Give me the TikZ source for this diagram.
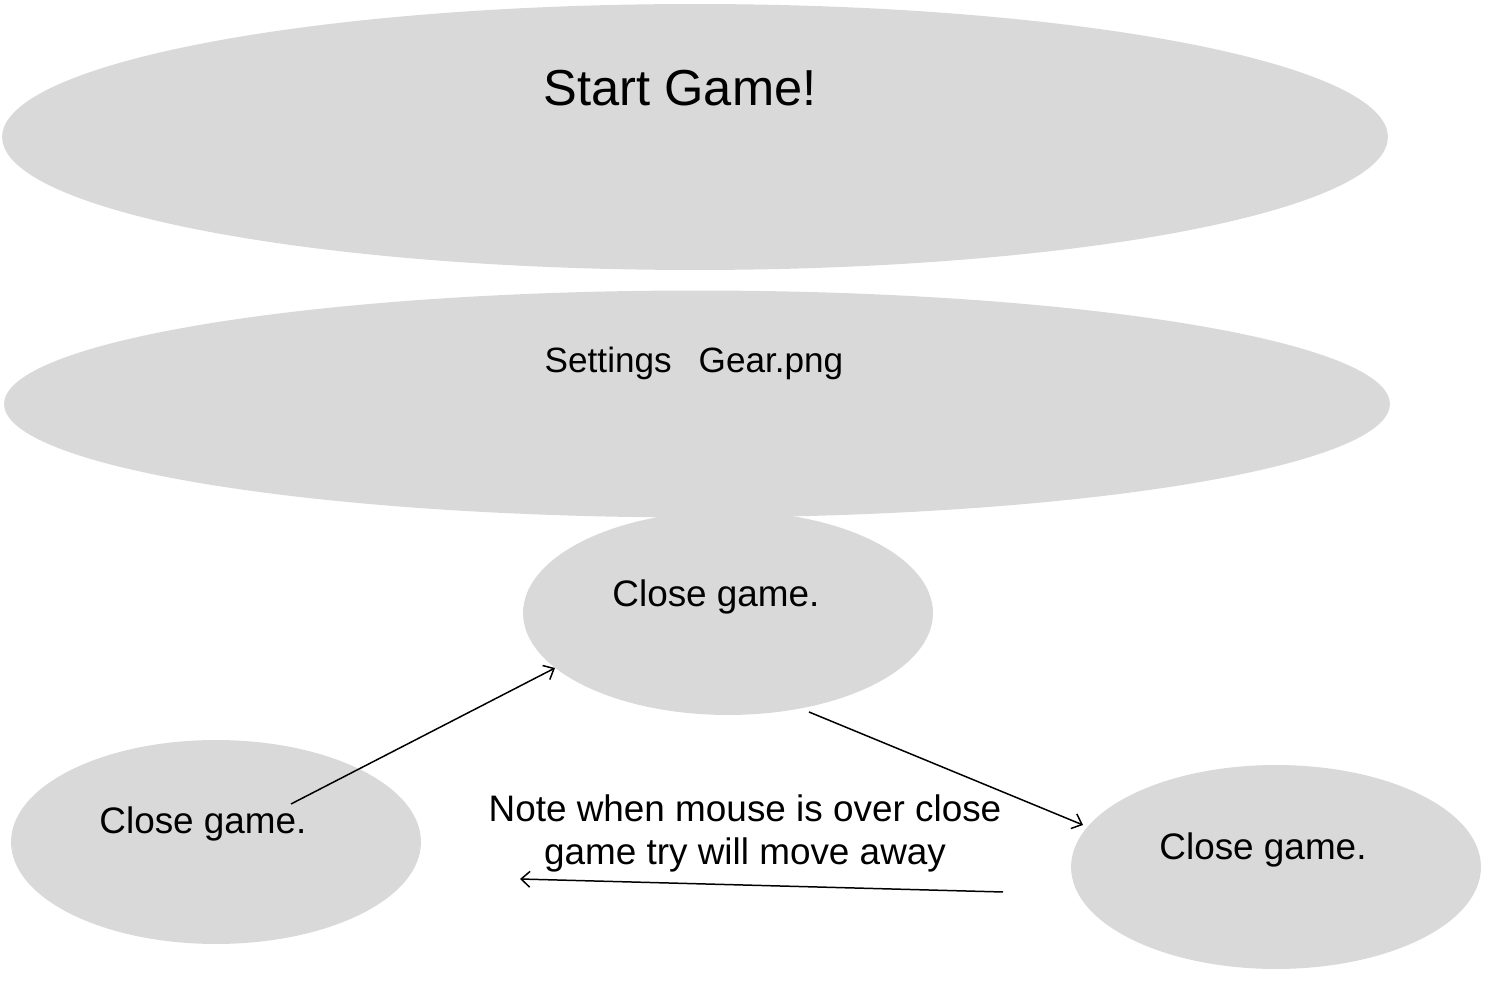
\documentclass[tikz,border=0pt]{standalone}
\usepackage{fontspec}
\setmainfont{Liberation Sans}
\usetikzlibrary{shapes.geometric, positioning, arrows.meta}
\definecolor{bubblegray}{RGB}{217,217,217}
\tikzset{
    bubble/.style={
        ellipse,
        fill=bubblegray,
        draw=none,
        inner sep=0pt
    },
    arrow/.style={
        -{Straight Barb[length=5pt,width=9pt]},
        line width=0.85pt,
        draw=black
    }
}

\begin{document}
\begin{tikzpicture}[x=0.02cm, y=-0.02cm]
        \useasboundingbox (0,0) rectangle (1512,982);

        % Start button
        \node (start) [bubble, minimum width=27.72cm, minimum height=5.32cm] at (695,137) {};
        \node (start_text) [font=\fontsize{28.8}{34}\selectfont] at (680,88) {Start Game!};

        % Settings button
        \node (settings) [bubble, minimum width=27.72cm, minimum height=4.54cm] at (697,404) {};
        \node (settings_text) [font=\fontsize{20}{24}\selectfont] at (694,363) {Settings\hspace{0.54cm}Gear.png};

        % Close buttons
        \node (close_mid) [bubble, minimum width=8.2cm, minimum height=4.08cm] at (728,613) {};
        \node (close_mid_text) [font=\fontsize{21}{25}\selectfont] at (716,597) {Close game.};

        \node (close_left) [bubble, minimum width=8.2cm, minimum height=4.08cm] at (216,842) {};
        \node (close_left_text) [font=\fontsize{21}{25}\selectfont] at (203,824) {Close game.};

        \node (close_right) [bubble, minimum width=8.2cm, minimum height=4.08cm] at (1276,867) {};
        \node (close_right_text) [font=\fontsize{21}{25}\selectfont] at (1263,850) {Close game.};

        % Note
        \node (note) [align=center, font=\fontsize{21}{24.5}\selectfont] at (745,833) {Note when mouse is over close\\ game try will move away};

        % Arrow ends
        \coordinate (a_from) at (291,804);
        \coordinate (a_to) at (555,668);
        \coordinate (b_from) at (809,712);
        \coordinate (b_to) at (1083,825);
        \coordinate (c_from) at (1003,892);
        \coordinate (c_to) at (520,879);

        % Arrows
        \draw [arrow] (a_from) -- (a_to);
        \draw [arrow] (b_from) -- (b_to);
        \draw [arrow] (c_from) -- (c_to);

\end{tikzpicture}
\end{document}
